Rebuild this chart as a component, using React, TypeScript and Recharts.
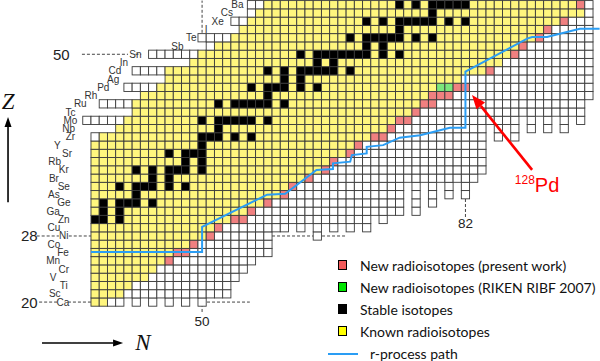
import { Legend, ReferenceLine, Scatter, ScatterChart, XAxis, YAxis } from "recharts";

// chart of nuclides, Z = 20 (Ca) .. 56 (Ba), N = 36 .. 97
const Z_FIRST = 20;
const N_FIRST = 37;
const N_LAST = 97;

const SYMBOLS = [
  "Ca", "Sc", "Ti", "V", "Cr", "Mn", "Fe", "Co", "Ni", "Cu", "Zn", "Ga", "Ge",
  "As", "Se", "Br", "Kr", "Rb", "Sr", "Y", "Zr", "Nb", "Mo", "Tc", "Ru", "Rh",
  "Pd", "Ag", "Cd", "In", "Sn", "Sb", "Te", "I", "Xe", "Cs", "Ba",
];

// per row (Z = 20..56): first drawn N, known-radioisotope range
const ROW_START = [
  37, 37, 37, 37, 37, 37, 37, 37, 37, 37, 37, 37, 37, 37, 37, 37, 37, 37, 37, 37,
  37, 40, 36, 42, 38, 43, 41, 46, 42, 49, 44, 51, 50, 55, 54, 56, 56,
];
const KNOWN_FROM = [
  37, 37, 37, 37, 37, 37, 37, 37, 37, 37, 37, 37, 37, 37, 37, 37, 37, 37, 37, 37,
  38, 40, 41, 42, 42, 43, 45, 46, 46, 49, 50, 52, 54, 55, 56, 57, 58,
];
const KNOWN_TO = [
  38, 40, 41, 43, 44, 45, 46, 48, 50, 51, 53, 55, 57, 59, 60, 62, 64, 65, 67, 68,
  70, 72, 73, 75, 76, 77, 78, 81, 84, 86, 87, 88, 90, 91, 93, 96, 95,
];

const STABLE: number[][] = [
  [], [], [], [], [], [], [], [], [], [],
  [37, 38, 40],
  [38, 40],
  [38, 40, 41, 42, 44],
  [42],
  [40, 42, 43, 44, 46, 48],
  [44, 46],
  [42, 44, 46, 47, 48, 50],
  [48, 50],
  [46, 48, 49, 50],
  [50],
  [50, 51, 52, 54, 56],
  [52],
  [50, 52, 53, 54, 55, 56, 58],
  [],
  [52, 54, 55, 56, 57, 58, 60],
  [58],
  [56, 58, 59, 60, 62, 64],
  [60, 62],
  [58, 60, 62, 63, 64, 65, 66, 68],
  [64, 66],
  [62, 64, 65, 66, 67, 68, 69, 70, 72, 74],
  [70, 72],
  [68, 70, 71, 72, 73, 74, 76, 78],
  [74],
  [70, 72, 74, 75, 76, 77, 78, 80, 82],
  [78],
  [74, 76, 78, 79, 80, 81, 82],
];

const NEW_PRESENT: number[][] = [
  [], [], [], [], [], [46], [47, 48], [49], [51], [52], [54, 55], [56], [58],
  [60], [61], [63], [65], [66], [68], [69], [71, 72], [73], [74, 75], [76],
  [77, 78], [78, 79, 80], [81, 82], [], [85], [], [88], [89], [91], [92], [94],
  [], [96],
];
const NEW_RIKEN_2007: number[][] = SYMBOLS.map((s) => (s === "Pd" ? [79, 80] : []));

// lowest Z drawn in each column N = 37..97
const COLUMN_BOTTOM = [
  20, 20, 20, 20, 21, 20, 21, 20, 21, 20, 21, 20, 21, 20,
  21, 21, 21, 23, 24, 25, 26, 26,
  29, 29, 30, 29, 30, 28, 30, 29, 30, 29, 30, 29, 31, 30, 31, 31,
  35, 31, 35, 32, 35, 33, 35, 33, 35, 36,
  42, 40, 42, 40, 43, 41, 43, 41, 43, 41, 43, 42, 45,
];

// where the element symbols sit (N units)
const LABEL_N = [
  33.1, 32.1, 33.2, 31.9, 33.2, 31.9, 33.1, 32.0, 33.2, 32.0, 33.2, 31.9, 33.2,
  32.0, 33.2, 32.0, 33.2, 32.1, 33.6, 32.4, 34.0, 33.8, 34.0, 34.0, 35.2, 36.5,
  38.0, 39.2, 39.4, 40.5, 41.9, 47.0, 48.7, 50.5, 51.9, 53.0, 54.3,
];

// r-process path
const R_PATH_N = [
  36.5, 50.0, 50.0, 57.9, 60.1, 63.9, 65.9, 65.9, 68.0, 68.2, 70.0, 70.0, 72.0,
  74.0, 76.5, 80.1, 82.0, 82.0, 89.5, 90.1, 91.9, 95.9, 98.3,
];
const R_PATH_Z = [
  26.05, 26.05, 29.1, 33.0, 33.1, 36.0, 36.1, 36.8, 37.0, 37.8, 38.0, 38.8, 39.0,
  39.9, 40.2, 41.1, 41.1, 47.9, 51.9, 52.1, 52.1, 53.1, 53.1,
];

const MAGIC_Z = [20, 28, 50];
const MAGIC_N = [50, 82];

const LEGEND = [
  { kind: "present", label: "New radioisotopes (present work)" },
  { kind: "riken", label: "New radioisotopes (RIKEN RIBF 2007)" },
  { kind: "stable", label: "Stable isotopes" },
  { kind: "known", label: "Known radioisotopes" },
  { kind: "path", label: "r-process path" },
];

// ---- layout
const W = 600;
const H = 361;
const N_LO = 25.445;
const N_HI = 98.349;
const Z_LO = 12.866;
const Z_HI = 56.571;
const CELL_W = W / (N_HI - N_LO);
const CELL_H = H / (Z_HI - Z_LO);

const CELL_FILL: Record<string, string> = {
  unknown: "#ffffff",
  known: "#fff67e",
  stable: "#000000",
  present: "#f08080",
  riken: "#7ce67c",
};
const LEGEND_FILL: Record<string, string> = {
  present: "#f25a5a",
  riken: "#00e600",
  stable: "#000000",
  known: "#ffff00",
};
const PATH_COLOR = "#2a9df4";
const LABEL_FONT = "'Liberation Sans', Arial, sans-serif";

type CellKind = "unknown" | "known" | "stable" | "present" | "riken";

const cells: { n: number; z: number; kind: CellKind }[] = [];
SYMBOLS.forEach((_, zi) => {
  const z = Z_FIRST + zi;
  for (let n = ROW_START[zi]; n <= N_LAST; n++) {
    const bottom = n >= N_FIRST ? COLUMN_BOTTOM[n - N_FIRST] : Z_FIRST;
    if (z < bottom) continue;
    let kind: CellKind = "unknown";
    if (STABLE[zi].includes(n)) kind = "stable";
    else if (NEW_RIKEN_2007[zi].includes(n)) kind = "riken";
    else if (NEW_PRESENT[zi].includes(n)) kind = "present";
    else if (n >= KNOWN_FROM[zi] && n <= KNOWN_TO[zi]) kind = "known";
    cells.push({ n, z, kind });
  }
});

const symbolLabels = SYMBOLS.map((text, zi) => ({ n: LABEL_N[zi], z: Z_FIRST + zi, text }));
const rPath = R_PATH_N.map((n, i) => ({ n, z: R_PATH_Z[i] }));

const leftMagic = MAGIC_Z.map((z) => ({ n: z === 50 ? 32.9 : 29.0, z, text: String(z) }));
const bottomMagic = MAGIC_N.map((n) => ({ n, z: n === 50 ? 17.6 : 29.5, text: String(n) }));

// arrows: tail point in data units, tip given as data offset
const arrows = [
  { n: 26.42, z: 32.1, dn: 0, dz: 10.3, color: "#000", width: 1.6, len: 10, half: 3.5 },
  { n: 30.55, z: 15.05, dn: 9.85, dz: 0, color: "#000", width: 1.6, len: 10, half: 3.5 },
  { n: 90.1, z: 36.0, dn: -7.3, dz: 9.07, color: "#ff0000", width: 2.6, len: 14, half: 5.5 },
];

function CellShape(props: any) {
  const { cx, cy, payload } = props;
  return (
    <rect
      x={cx - CELL_W / 2}
      y={cy - CELL_H / 2}
      width={CELL_W}
      height={CELL_H}
      fill={CELL_FILL[payload.kind]}
      stroke="#3a3a3a"
      strokeWidth={0.9}
    />
  );
}

function ArrowShape(props: any) {
  const { cx, cy, payload } = props;
  const { dn, dz, color, width, len, half } = payload;
  const x2 = cx + dn * CELL_W;
  const y2 = cy - dz * CELL_H;
  const a = Math.atan2(y2 - cy, x2 - cx);
  const bx = x2 - len * Math.cos(a);
  const by = y2 - len * Math.sin(a);
  const ox = -Math.sin(a) * half;
  const oy = Math.cos(a) * half;
  return (
    <g>
      <line x1={cx} y1={cy} x2={bx} y2={by} stroke={color} strokeWidth={width} />
      <polygon points={`${x2},${y2} ${bx + ox},${by + oy} ${bx - ox},${by - oy}`} fill={color} />
    </g>
  );
}

const textShape = (size: number, fill: string) => (props: any) => (
  <text
    x={props.cx}
    y={props.cy}
    textAnchor="middle"
    dominantBaseline="central"
    fontFamily={LABEL_FONT}
    fontSize={size}
    fill={fill}
  >
    {props.payload.text}
  </text>
);

const dash = { stroke: "#444", strokeWidth: 1, strokeDasharray: "3 2" };

function LegendBox() {
  return (
    <div style={{ position: "relative", width: 274, height: 110, fontFamily: "Lato, sans-serif", fontSize: 14, color: "#111" }}>
      {LEGEND.map((item, i) => (
        <div key={item.kind} style={{ position: "absolute", left: 0, top: i * 21.9, height: 22, width: 274 }}>
          {item.kind === "path" ? (
            <div style={{ position: "absolute", left: 2, top: 10, width: 30, height: 2, background: PATH_COLOR }} />
          ) : (
            <div
              style={{
                position: "absolute",
                left: 12,
                top: 5,
                width: 7,
                height: 8,
                background: LEGEND_FILL[item.kind],
                border: "1.6px solid #000",
              }}
            />
          )}
          <span style={{ position: "absolute", left: item.kind === "path" ? 44 : 34, top: 1, whiteSpace: "nowrap", lineHeight: "20px" }}>
            {item.label}
          </span>
        </div>
      ))}
    </div>
  );
}

export default function App() {
  return (
    <div style={{ position: "absolute", left: 0, top: 0, width: W, height: H, background: "#fff" }}>
      <ScatterChart width={W} height={H} margin={{ top: 0, right: 0, bottom: 0, left: 0 }}>
        <XAxis type="number" dataKey="n" domain={[N_LO, N_HI]} allowDataOverflow hide />
        <YAxis type="number" dataKey="z" domain={[Z_LO, Z_HI]} allowDataOverflow hide />

        {/* magic-number guide lines */}
        <ReferenceLine segment={[{ x: 35.4, y: 50 }, { x: 41.0, y: 50 }]} {...dash} />
        <ReferenceLine segment={[{ x: 41.9, y: 50 }, { x: 42.6, y: 50 }]} {...dash} />
        <ReferenceLine segment={[{ x: 29.9, y: 28 }, { x: 32.6, y: 28 }]} {...dash} />
        <ReferenceLine segment={[{ x: 33.8, y: 28 }, { x: 36.5, y: 28 }]} {...dash} />
        <ReferenceLine segment={[{ x: 58.5, y: 28 }, { x: 67.6, y: 28 }]} {...dash} />
        <ReferenceLine segment={[{ x: 30.2, y: 20 }, { x: 32.4, y: 20 }]} {...dash} />
        <ReferenceLine segment={[{ x: 33.7, y: 20 }, { x: 36.5, y: 20 }]} {...dash} />
        <ReferenceLine segment={[{ x: 50.6, y: 20 }, { x: 55.8, y: 20 }]} {...dash} />
        <ReferenceLine segment={[{ x: 50, y: 52.6 }, { x: 50, y: 56.5 }]} {...dash} />
        <ReferenceLine segment={[{ x: 50, y: 18.8 }, { x: 50, y: 19.5 }]} {...dash} />
        <ReferenceLine segment={[{ x: 82, y: 30.3 }, { x: 82, y: 32.5 }]} {...dash} />

        <Scatter data={cells} shape={CellShape} isAnimationActive={false} />
        <Scatter
          data={rPath}
          line={{ stroke: PATH_COLOR, strokeWidth: 2 }}
          shape={() => <g />}
          isAnimationActive={false}
        />
        <Scatter data={symbolLabels} shape={textShape(10, "#333")} isAnimationActive={false} />
        <Scatter data={leftMagic} shape={textShape(15, "#222")} isAnimationActive={false} />
        <Scatter data={bottomMagic} shape={textShape(13.5, "#222")} isAnimationActive={false} />
        <Scatter
          data={[{ n: 88.0, z: 33.33 }]}
          isAnimationActive={false}
          shape={(p: any) => (
            <text x={p.cx} y={p.cy} fill="#ff0000" fontFamily="'Liberation Sans Narrow', 'Liberation Sans', sans-serif">
              <tspan fontSize={12} dy={-8}>128</tspan>
              <tspan fontSize={20} dy={8}>Pd</tspan>
            </text>
          )}
        />
        <Scatter
          data={[{ n: 26.42, z: 44.3, text: "Z" }, { n: 42.8, z: 15.05, text: "N" }]}
          isAnimationActive={false}
          shape={(p: any) => (
            <text
              x={p.cx}
              y={p.cy}
              textAnchor="middle"
              dominantBaseline="central"
              fontFamily="'Liberation Serif', serif"
              fontStyle="italic"
              fontSize={23}
              fill="#111"
            >
              {p.payload.text}
            </text>
          )}
        />
        <Scatter data={arrows} shape={ArrowShape} isAnimationActive={false} />

        <Legend
          layout="horizontal"
          verticalAlign="middle"
          align="center"
          content={() => <LegendBox />}
          wrapperStyle={{ left: 326, top: 255, width: 274, height: 110 }}
        />
      </ScatterChart>
    </div>
  );
}
